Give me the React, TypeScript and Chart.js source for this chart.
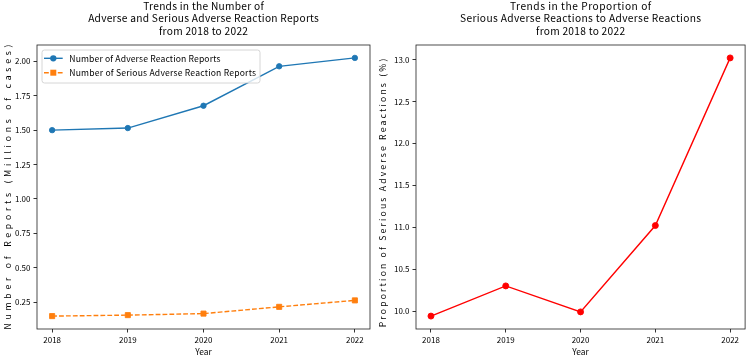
import React, { useEffect, useRef } from 'react';
import { Chart, registerables } from 'chart.js';

Chart.register(...registerables);

// Yearly reporting figures (report counts in millions of cases)
const years = [2018, 2019, 2020, 2021, 2022];
const adverseReports = [1.499, 1.514, 1.676, 1.962, 2.023];
const seriousReports = [0.15, 0.157, 0.168, 0.217, 0.264];
const seriousShare = [9.94, 10.3, 9.99, 11.02, 13.02];

const countTicks = [0.25, 0.5, 0.75, 1.0, 1.25, 1.5, 1.75, 2.0];
const shareTicks = [10.0, 10.5, 11.0, 11.5, 12.0, 12.5, 13.0];

const countTitle = [
  'Trends in the Number of',
  'Adverse and Serious Adverse Reaction Reports',
  'from 2018 to 2022',
];
const shareTitle = [
  'Trends in the Proportion of',
  'Serious Adverse Reactions to Adverse Reactions',
  'from 2018 to 2022',
];
const countAxisLabel = 'Number of Reports (Millions of cases)';
const shareAxisLabel = 'Proportion of Serious Adverse Reactions (%)';
const yearLabel = 'Year';

const FONT = '"Noto Sans CJK JP", "Noto Sans", sans-serif';
const BLUE = '#1f77b4';
const ORANGE = '#ff7f0e';
const RED = '#ff0000';

function paddedRange(values: number[]) {
  const lo = Math.min(...values);
  const hi = Math.max(...values);
  const m = (hi - lo) * 0.05;
  return { min: lo - m, max: hi + m };
}

const toPoints = (ys: number[]) => years.map((x, i) => ({ x, y: ys[i] }));

// Draws text with a fixed advance per character (half-width monospace look)
function drawFixedPitch(
  ctx: CanvasRenderingContext2D,
  text: string,
  x: number,
  y: number,
  advance: number,
  align: 'left' | 'center',
) {
  (ctx as any).letterSpacing = '0px';
  const natural = ctx.measureText(text).width;
  const n = text.length;
  const sp = (advance * n - natural) / n;
  (ctx as any).letterSpacing = `${sp}px`;
  const visible = natural + sp * (n - 1);
  const startX = align === 'center' ? x - visible / 2 : x;
  ctx.textAlign = 'left';
  ctx.fillText(text, startX, y);
  (ctx as any).letterSpacing = '0px';
}

// Box around the plotting area (all four spines)
const framePlugin = {
  id: 'frame',
  afterDraw(chart: any) {
    const { ctx, chartArea: a } = chart;
    ctx.save();
    ctx.strokeStyle = '#222';
    ctx.lineWidth = 0.8;
    ctx.strokeRect(a.left, a.top, a.right - a.left, a.bottom - a.top);
    ctx.restore();
  },
};

// Three-line heading centred over the plotting area
function headingPlugin(lines: string[]) {
  return {
    id: 'heading',
    afterDraw(chart: any) {
      const { ctx, chartArea: a } = chart;
      const cx = (a.left + a.right) / 2;
      ctx.save();
      ctx.font = `10.2px ${FONT}`;
      ctx.fillStyle = '#000';
      ctx.textBaseline = 'middle';
      lines.forEach((line, i) => drawFixedPitch(ctx, line, cx, 6.3 + i * 12.2, 5.25, 'center'));
      ctx.restore();
    },
  };
}

// Rotated y-axis caption
function yCaptionPlugin(text: string, advance: number, shift: number) {
  return {
    id: 'yCaption',
    afterDraw(chart: any) {
      const { ctx, chartArea: a } = chart;
      ctx.save();
      ctx.translate(8, (a.top + a.bottom) / 2 + shift);
      ctx.rotate(-Math.PI / 2);
      ctx.font = `8.6px ${FONT}`;
      ctx.textBaseline = 'middle';
      ctx.fillStyle = '#000';
      drawFixedPitch(ctx, text, 0, 0, advance, 'center');
      ctx.restore();
    },
  };
}

// Legend box in the upper-left corner of the plotting area
const legendBoxPlugin = {
  id: 'legendBox',
  afterDatasetsDraw(chart: any) {
    const { ctx, chartArea: a } = chart;
    const x0 = a.left + 5;
    const y0 = a.top + 5;
    const w = 218;
    const h = 33;
    ctx.save();
    ctx.beginPath();
    ctx.roundRect(x0, y0, w, h, 2.5);
    ctx.fillStyle = 'rgba(255,255,255,0.8)';
    ctx.fill();
    ctx.strokeStyle = '#cccccc';
    ctx.lineWidth = 0.8;
    ctx.stroke();
    chart.data.datasets.forEach((ds: any, i: number) => {
      const yc = y0 + 8.3 + i * 14.4;
      ctx.strokeStyle = ds.borderColor;
      ctx.lineWidth = ds.borderWidth;
      ctx.setLineDash(ds.borderDash || []);
      ctx.beginPath();
      ctx.moveTo(x0 + 2, yc);
      ctx.lineTo(x0 + 20.7, yc);
      ctx.stroke();
      ctx.setLineDash([]);
      const cx = x0 + 11.3;
      ctx.fillStyle = ds.pointBackgroundColor;
      ctx.beginPath();
      if (ds.pointStyle === 'rect') {
        const s = ds.pointRadius * Math.SQRT1_2 + ds.pointBorderWidth / 2;
        ctx.rect(cx - s, yc - s, 2 * s, 2 * s);
      } else {
        ctx.arc(cx, yc, ds.pointRadius + ds.pointBorderWidth / 2, 0, Math.PI * 2);
      }
      ctx.fill();
      ctx.fillStyle = '#000';
      ctx.font = `8.6px ${FONT}`;
      ctx.textBaseline = 'middle';
      drawFixedPitch(ctx, ds.label, x0 + 27.3, yc, 4.45, 'left');
    });
    ctx.restore();
  },
};

interface PanelSpec {
  datasets: any[];
  yTicks: number[];
  decimals: number;
  yRange: { min: number; max: number };
  yAxisWidth: number;
  rightPad: number;
  plugins: any[];
}

function buildConfig(p: PanelSpec): any {
  const xRange = paddedRange(years);
  const tickGrid = {
    display: true,
    drawOnChartArea: false,
    drawTicks: true,
    tickLength: 3.5,
    color: '#000',
    lineWidth: 0.8,
  };
  const tickFont = { family: FONT, size: 8 };
  return {
    type: 'line',
    data: { datasets: p.datasets },
    plugins: p.plugins,
    options: {
      responsive: false,
      animation: false,
      events: [],
      layout: { padding: { left: 0, right: p.rightPad, top: 45, bottom: 0 } },
      plugins: {
        legend: { display: false },
        tooltip: { enabled: false },
        title: { display: false },
      },
      scales: {
        x: {
          type: 'linear',
          min: xRange.min,
          max: xRange.max,
          afterBuildTicks: (s: any) => {
            s.ticks = years.map((v) => ({ value: v }));
          },
          afterFit: (s: any) => {
            s.height = 28;
          },
          ticks: {
            callback: (v: any) => String(v),
            font: tickFont,
            color: '#000',
            padding: 2.5,
            maxRotation: 0,
            autoSkip: false,
          },
          grid: tickGrid,
          border: { display: false },
          title: {
            display: true,
            text: yearLabel,
            color: '#000',
            font: { family: FONT, size: 8.4 },
            padding: { top: 0, bottom: 0.5 },
          },
        },
        y: {
          type: 'linear',
          min: p.yRange.min,
          max: p.yRange.max,
          afterBuildTicks: (s: any) => {
            s.ticks = p.yTicks.map((v) => ({ value: v }));
          },
          afterFit: (s: any) => {
            s.width = p.yAxisWidth;
          },
          ticks: {
            callback: (v: any) => Number(v).toFixed(p.decimals),
            font: tickFont,
            color: '#000',
            padding: 3,
            autoSkip: false,
          },
          grid: tickGrid,
          border: { display: false },
        },
      },
    },
  };
}

function Panel({ spec, left }: { spec: PanelSpec; left: number }) {
  const ref = useRef<HTMLCanvasElement | null>(null);
  useEffect(() => {
    if (!ref.current) return;
    const chart = new Chart(ref.current, buildConfig(spec));
    return () => chart.destroy();
  }, [spec]);
  return (
    <canvas
      ref={ref}
      width={375}
      height={357}
      style={{ position: 'absolute', left, top: 0, width: 375, height: 357 }}
    />
  );
}

const countSpec: PanelSpec = {
  datasets: [
    {
      label: 'Number of Adverse Reaction Reports',
      data: toPoints(adverseReports),
      borderColor: BLUE,
      backgroundColor: BLUE,
      borderWidth: 1.4,
      pointStyle: 'circle',
      pointRadius: 2.7,
      pointBorderWidth: 0.9,
      pointBackgroundColor: BLUE,
      pointBorderColor: BLUE,
    },
    {
      label: 'Number of Serious Adverse Reaction Reports',
      data: toPoints(seriousReports),
      borderColor: ORANGE,
      backgroundColor: ORANGE,
      borderWidth: 1.4,
      borderDash: [4.8, 2.1],
      pointStyle: 'rect',
      pointRadius: 3.6,
      pointBorderWidth: 0.9,
      pointBackgroundColor: ORANGE,
      pointBorderColor: ORANGE,
    },
  ],
  yTicks: countTicks,
  decimals: 2,
  yRange: paddedRange([...adverseReports, ...seriousReports]),
  yAxisWidth: 37,
  rightPad: 5,
  plugins: [
    framePlugin,
    headingPlugin(countTitle),
    yCaptionPlugin(countAxisLabel, 7.8, 0),
    legendBoxPlugin,
  ],
};

const shareSpec: PanelSpec = {
  datasets: [
    {
      label: 'Serious adverse reaction share',
      data: toPoints(seriousShare),
      borderColor: RED,
      backgroundColor: RED,
      borderWidth: 1.4,
      pointStyle: 'circle',
      pointRadius: 3,
      pointBorderWidth: 0.9,
      pointBackgroundColor: RED,
      pointBorderColor: RED,
    },
  ],
  yTicks: shareTicks,
  decimals: 1,
  yRange: paddedRange(seriousShare),
  yAxisWidth: 41,
  rightPad: 4,
  plugins: [framePlugin, headingPlugin(shareTitle), yCaptionPlugin(shareAxisLabel, 6.3, 6)],
};

export default function App() {
  return (
    <div
      style={{
        position: 'fixed',
        left: 0,
        top: 0,
        width: 750,
        height: 357,
        background: '#fff',
        overflow: 'hidden',
      }}
    >
      <Panel spec={countSpec} left={0} />
      <Panel spec={shareSpec} left={375} />
    </div>
  );
}
